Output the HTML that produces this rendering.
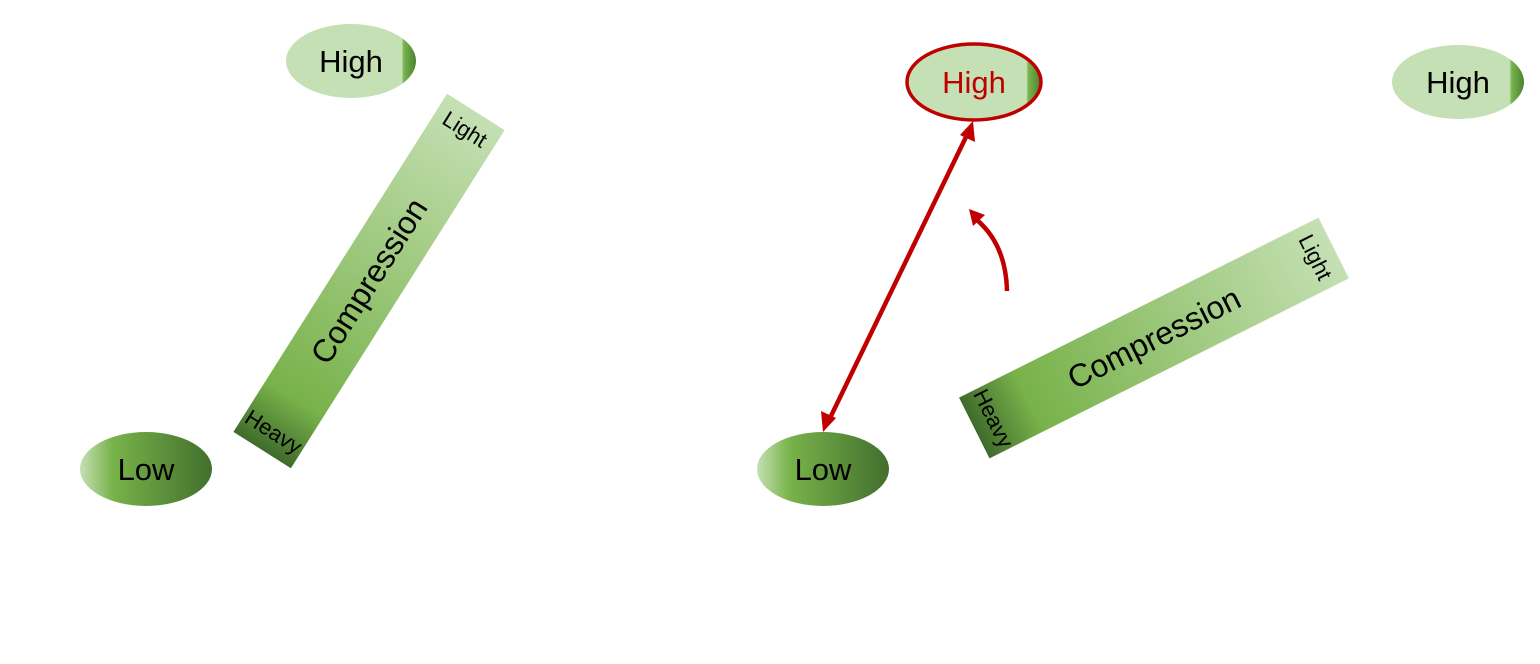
<!DOCTYPE html>
<html><head><meta charset="utf-8"><style>html,body{margin:0;padding:0;background:#fff}svg{display:block}</style></head>
<body>
<svg width="1540" height="664" viewBox="0 0 1540 664" xmlns="http://www.w3.org/2000/svg" font-family="Liberation Sans, Arial, sans-serif">
<defs>
<linearGradient id="hi" x1="0" y1="0" x2="1" y2="0">
<stop offset="0" stop-color="#c5e0b4"/><stop offset="0.89" stop-color="#c5e0b4"/>
<stop offset="0.905" stop-color="#7ab44e"/><stop offset="1" stop-color="#4a8230"/></linearGradient>
<linearGradient id="lo" x1="0" y1="0" x2="1" y2="0">
<stop offset="0" stop-color="#c5e0b4"/><stop offset="0.25" stop-color="#78b24a"/><stop offset="1" stop-color="#426f2d"/></linearGradient>
<linearGradient id="bar" x1="0" y1="0" x2="1" y2="0">
<stop offset="0" stop-color="#3f6b2b"/><stop offset="0.15" stop-color="#78b24a"/><stop offset="1" stop-color="#c5e0b4"/></linearGradient>
</defs>
<!-- left -->
<ellipse cx="351" cy="61" rx="65" ry="37" fill="url(#hi)"/>
<text x="351" y="72" font-size="31" text-anchor="middle">High</text>
<ellipse cx="146" cy="469" rx="66" ry="37" fill="url(#lo)"/>
<text x="146" y="480" font-size="31" text-anchor="middle">Low</text>
<g transform="translate(369,281) rotate(-57.7)">
<rect x="-200" y="-34" width="400" height="68" fill="url(#bar)"/>
<text x="0" y="11" font-size="32" text-anchor="middle">Compression</text>
<text transform="translate(-178,0) rotate(90)" x="0" y="8" font-size="22" text-anchor="middle">Heavy</text>
<text transform="translate(180,0) rotate(90)" x="0" y="8" font-size="22" text-anchor="middle">Light</text>
</g>
<!-- middle -->
<ellipse cx="974" cy="82" rx="67" ry="38" fill="url(#hi)" stroke="#c00000" stroke-width="3.5"/>
<text x="974" y="93" font-size="31" text-anchor="middle" fill="#c00000">High</text>
<ellipse cx="823" cy="469" rx="66" ry="37" fill="url(#lo)"/>
<text x="823" y="480" font-size="31" text-anchor="middle">Low</text>
<line x1="966" y1="137" x2="831" y2="416" stroke="#c00000" stroke-width="4.5"/>
<polygon points="973,121 975,142 960,135" fill="#c00000"/>
<polygon points="823,432 821,411 836,418" fill="#c00000"/>
<path d="M1007,291 Q1006,245 977,220" fill="none" stroke="#c00000" stroke-width="4.5"/>
<polygon points="969,209 985,215 973,226" fill="#c00000"/>
<g transform="translate(1154,338) rotate(-26.6)">
<rect x="-201" y="-34" width="402" height="68" fill="url(#bar)"/>
<text x="0" y="11" font-size="32" text-anchor="middle">Compression</text>
<text transform="translate(-179,0) rotate(90)" x="0" y="8" font-size="22" text-anchor="middle">Heavy</text>
<text transform="translate(181,0) rotate(90)" x="0" y="8" font-size="22" text-anchor="middle">Light</text>
</g>
<!-- right -->
<ellipse cx="1458" cy="82" rx="66" ry="37" fill="url(#hi)"/>
<text x="1458" y="93" font-size="31" text-anchor="middle">High</text>
</svg>
</body></html>
